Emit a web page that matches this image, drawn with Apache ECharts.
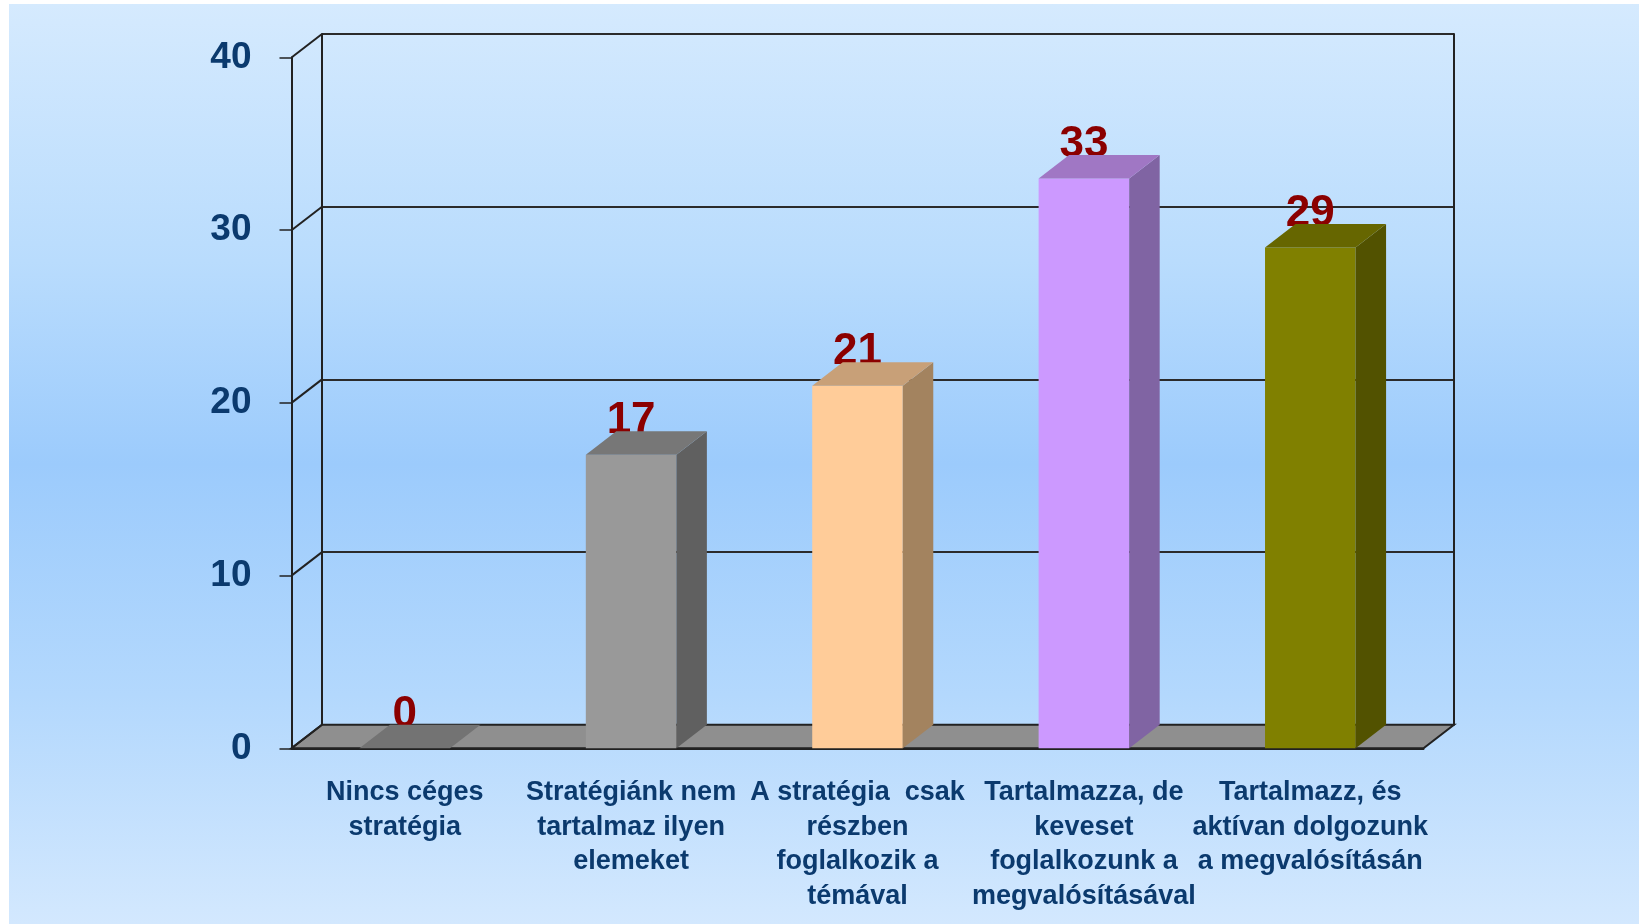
<!DOCTYPE html>
<html>
<head>
<meta charset="utf-8">
<script src="https://cdn.jsdelivr.net/npm/echarts@6.0.0/dist/echarts.min.js"></script>
<style>
  html, body { margin: 0; padding: 0; background: #fff; }
  #bg {
    position: absolute; left: 9px; top: 4px; right: 0; bottom: 0;
    background: linear-gradient(to bottom, #d5eafe 0%, #b9dcfd 28%, #9ccbfc 50%, #b3d8fd 75%, #d3e8fe 100%);
  }
  #main { position: absolute; left: 0; top: 0; width: 1639px; height: 924px; }
</style>
</head>
<body>
<div id="bg"></div>
<div id="main"></div>
<script>
const categories = [
  'Nincs céges\nstratégia',
  'Stratégiánk nem\ntartalmaz ilyen\nelemeket',
  'A stratégia  csak\nrészben\nfoglalkozik a\ntémával',
  'Tartalmazza, de\nkeveset\nfoglalkozunk a\nmegvalósításával',
  'Tartalmazz, és\naktívan dolgozunk\na megvalósításán'
]
const values = [0, 17, 21, 33, 29]
const yTicks = [0, 10, 20, 30, 40]

// front / top / side colours of each bar
const barColors = [
  { front: '#808080', top: '#737373', side: '#5a5a5a' },
  { front: '#999999', top: '#777777', side: '#606060' },
  { front: '#ffcc99', top: '#c8a078', side: '#a3835f' },
  { front: '#cc99ff', top: '#a077c4', side: '#8064a3' },
  { front: '#808000', top: '#666600', side: '#525200' }
]

// depth of the 3d box in pixels
const DX = 30.5
const DY = 23.5
const navy = '#0b3a6e'
const lineCol = '#222'

let myChart = echarts.init(document.getElementById('main'))
let option = {
  animation: false,
  backgroundColor: 'transparent',
  grid: [
    { left: 291.5, top: 57.5, right: 215.5, bottom: 175.7 },
    { left: 322, top: 34, right: 185, bottom: 199.2 }
  ],
  xAxis: [
    {
      gridIndex: 0,
      type: 'category',
      data: categories,
      axisLine: { lineStyle: { color: lineCol, width: 2 } },
      axisTick: { length: 11, lineStyle: { color: '#333', width: 1.5 } },
      axisLabel: {
        interval: 0,
        margin: 27,
        color: navy,
        fontFamily: 'Liberation Sans',
        fontWeight: 'bold',
        fontSize: 27,
        lineHeight: 34.5
      }
    },
    { gridIndex: 1, type: 'category', data: categories, show: false }
  ],
  yAxis: [
    {
      gridIndex: 0,
      type: 'value',
      min: 0,
      max: 40,
      interval: 10,
      axisLine: { show: true, lineStyle: { color: lineCol, width: 2 } },
      axisTick: { show: true, length: 12, lineStyle: { color: lineCol, width: 1.5 } },
      axisLabel: {
        margin: 40,
        color: navy,
        fontFamily: 'Liberation Sans',
        fontWeight: 'bold',
        fontSize: 37
      },
      splitLine: { show: false }
    },
    {
      gridIndex: 1,
      type: 'value',
      min: 0,
      max: 40,
      interval: 10,
      axisLine: { show: true, lineStyle: { color: lineCol, width: 2 } },
      axisTick: { show: false },
      axisLabel: { show: false },
      splitLine: { show: true, lineStyle: { color: '#2b2b2b', width: 2 } }
    },
    {
      gridIndex: 1,
      type: 'value',
      position: 'right',
      min: 0,
      max: 40,
      interval: 10,
      axisLine: { show: true, lineStyle: { color: lineCol, width: 2 } },
      axisTick: { show: false },
      axisLabel: { show: false },
      splitLine: { show: false }
    }
  ],
  series: [
    {
      // floor
      type: 'custom',
      xAxisIndex: 0,
      yAxisIndex: 0,
      clip: false,
      z: 1,
      data: [[0, 0]],
      renderItem: (params, api) => {
        let cs = params.coordSys
        let y0 = api.coord([0, 0])[1]
        return {
          type: 'polygon',
          shape: {
            points: [
              [cs.x, y0],
              [cs.x + cs.width, y0],
              [cs.x + cs.width + DX, y0 - DY],
              [cs.x + DX, y0 - DY]
            ]
          },
          style: { fill: '#8f8f8f', stroke: lineCol, lineWidth: 2 }
        }
      }
    },
    {
      // left side wall lines
      type: 'custom',
      xAxisIndex: 0,
      yAxisIndex: 0,
      clip: false,
      z: 1,
      data: yTicks.map(v => [0, v]),
      renderItem: (params, api) => {
        let cs = params.coordSys
        let y = api.coord([0, api.value(1)])[1]
        return {
          type: 'line',
          shape: { x1: cs.x, y1: y, x2: cs.x + DX, y2: y - DY },
          style: { stroke: lineCol, lineWidth: 2 }
        }
      }
    },
    {
      // 3d bars, label sits behind the top face
      type: 'custom',
      xAxisIndex: 0,
      yAxisIndex: 0,
      clip: false,
      z: 3,
      data: values.map((v, i) => [i, v]),
      renderItem: (params, api) => {
        let i = api.value(0)
        let v = api.value(1)
        let top = api.coord([i, v])
        let base = api.coord([i, 0])
        let w = api.size([1, 0])[0] * 0.4
        let xl = top[0] - w / 2
        let xr = top[0] + w / 2
        let yt = top[1]
        let yb = base[1]
        let c = barColors[i]
        let children = []
        children.push({
          type: 'text',
          style: {
            text: String(v),
            x: top[0],
            y: yt - DY + 12,
            align: 'center',
            verticalAlign: 'bottom',
            fill: '#8b0000',
            fontFamily: 'Liberation Sans',
            fontWeight: 'bold',
            fontSize: 44
          }
        })
        if (v > 0) {
          children.push({
            type: 'rect',
            shape: { x: xl, y: yt, width: w, height: yb - yt },
            style: { fill: c.front }
          })
          children.push({
            type: 'polygon',
            shape: { points: [[xr, yt], [xr + DX, yt - DY], [xr + DX, yb - DY], [xr, yb]] },
            style: { fill: c.side }
          })
        }
        children.push({
          type: 'polygon',
          shape: { points: [[xl, yt], [xr, yt], [xr + DX, yt - DY], [xl + DX, yt - DY]] },
          style: { fill: c.top }
        })
        return { type: 'group', children: children }
      }
    }
  ]
}
myChart.setOption(option)
</script>
</body>
</html>
